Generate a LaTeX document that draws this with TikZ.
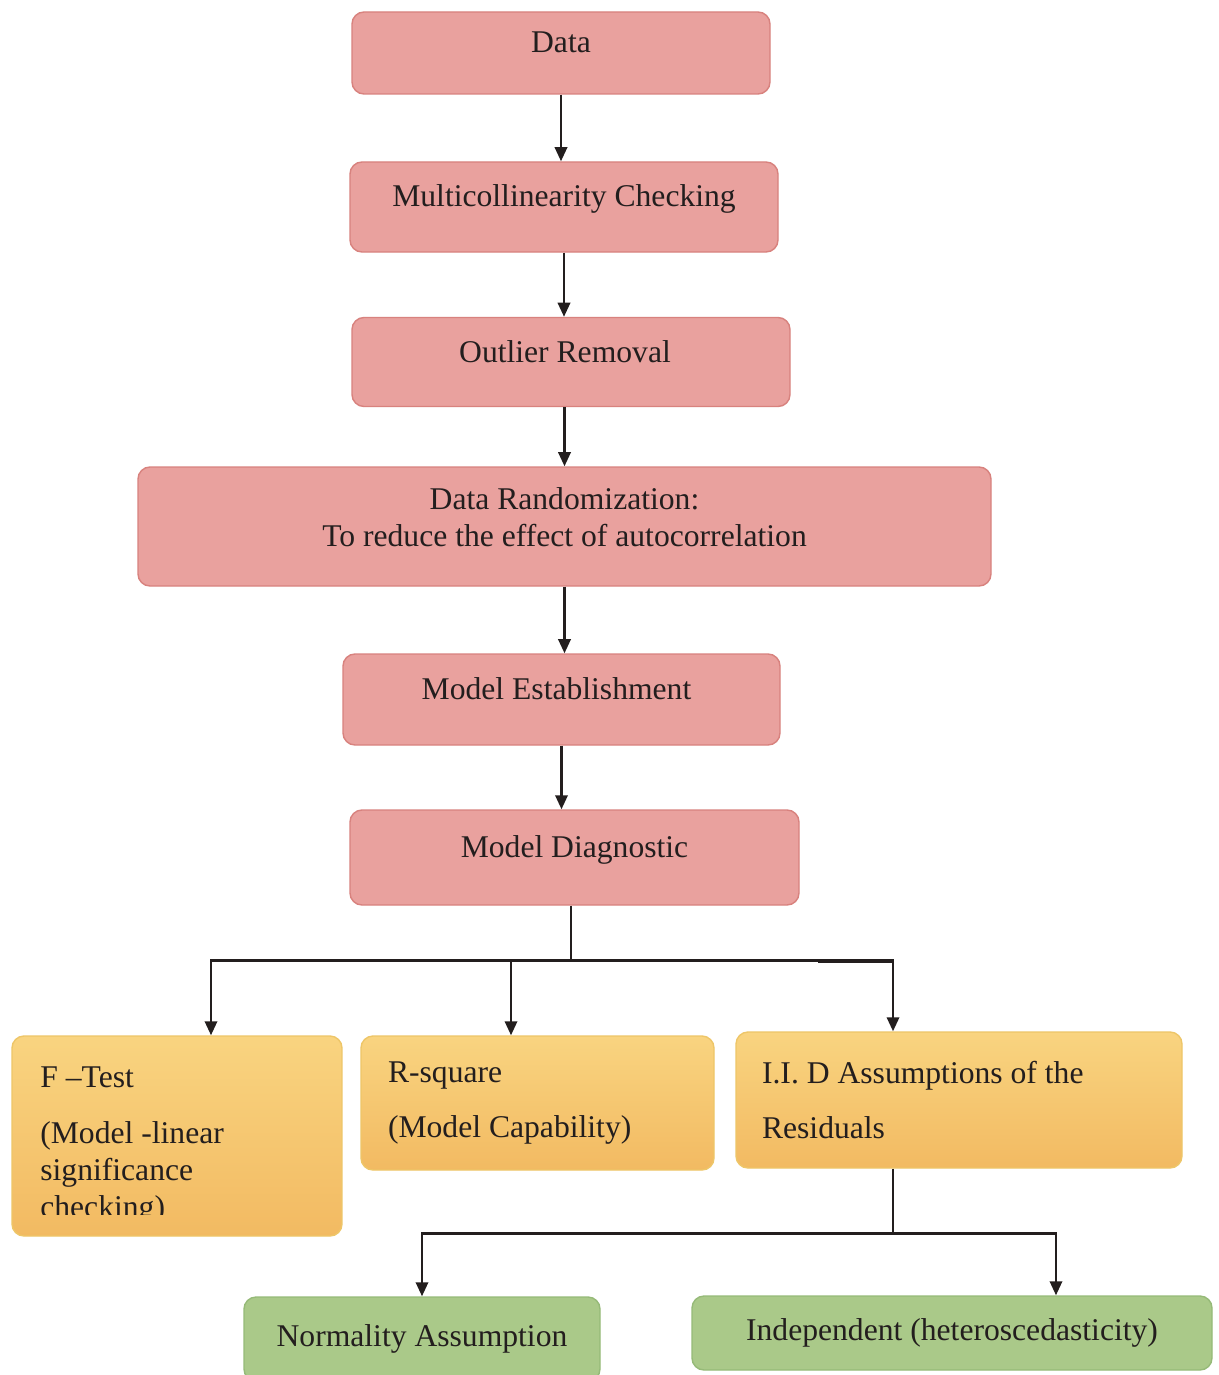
\documentclass[tikz,border=0pt]{standalone}
\usepackage{fontspec}
\setmainfont{Liberation Serif}
\usetikzlibrary{arrows.meta}
\definecolor{pinkfill}{RGB}{233,161,158}
\definecolor{pinkdraw}{RGB}{216,130,126}
\definecolor{orangetop}{RGB}{249,212,128}
\definecolor{orangebot}{RGB}{242,186,98}
\definecolor{orangedraw}{RGB}{238,198,104}
\definecolor{greenfill}{RGB}{170,201,137}
\definecolor{greendraw}{RGB}{150,186,120}
\definecolor{inkc}{RGB}{35,30,30}
\begin{document}
\begin{tikzpicture}[x=0.02cm,y=-0.02cm,
  wh/.style 2 args={minimum width=#1*0.02cm, minimum height=#2*0.02cm},
  box/.style={rounded corners=0.24cm, line width=0.8pt, inner sep=0pt,
    font=\fontsize{18}{21}\selectfont, text=inkc},
  pbox/.style={box, fill=pinkfill, draw=pinkdraw, align=center},
  raised/.style={text height=8pt, text depth=8pt},
  obox/.style={box, top color=orangetop, bottom color=orangebot, draw=orangedraw},
  gbox/.style={box, fill=greenfill, draw=greendraw},
  otext/.style={anchor=north west, align=flush left, inner sep=0pt,
    font=\fontsize{18}{21}\selectfont, text=inkc},
  line/.style={line width=1.4pt, inkc},
  arr/.style={line, -{Triangle[width=7pt,length=8pt]}}]

\useasboundingbox[fill=white] (0,0) rectangle (1219,1375);

% pink chain
\node[pbox, raised, wh={418}{82}] (data) at (561,53) {Data};
\node[pbox, raised, wh={428}{90}] (multi) at (564,207) {Multicollinearity Checking};
\node[pbox, raised, wh={438}{89}] (outlier) at (571,362) {\hspace*{-0.24cm}Outlier Removal};
\node[pbox, wh={853}{119}] (rand) at (564.5,526.5) {Data Randomization:\\To reduce the effect of autocorrelation\\[-10pt]\mbox{}};
\node[pbox, raised, wh={437}{91}] (est) at (561.5,699.5) {\hspace*{-0.2cm}Model Establishment};
\node[pbox, raised, wh={449}{95}] (diag) at (574.5,857.5) {Model Diagnostic};

\draw[arr] (data.south) -- (data.south |- multi.north);
\draw[arr] (multi.south) -- (multi.south |- outlier.north);
\draw[arr] (rand.north |- outlier.south) -- (rand.north);
\draw[arr] (rand.south) -- (rand.south |- est.north);
\draw[arr] (est.south) -- (est.south |- diag.north);

% orange row
\node[obox, wh={330}{200}] (ftest) at (177,1136) {};
\begin{scope}
  \clip (12,1036) rectangle (342,1214);
  \node[otext] (ftesttext) at (40,1066) {F –Test\\[11pt](Model -linear\\significance\\checking)};
\end{scope}
\node[obox, wh={353}{134}, text width=5.98cm, align=flush left] (rsq) at (537.5,1103)
  {R-square\\[10pt](Model Capability)};
\node[obox, wh={446}{136}, text width=7.88cm, align=flush left] (iid) at (959,1100)
  {I.I. D Assumptions of the\\[10pt]Residuals};

\coordinate (b1) at ([xshift=-0.07cm, yshift=-1.1cm]diag.south);
\coordinate (fa) at ([xshift=0.68cm]ftest.north);
\coordinate (ra) at ([xshift=-0.53cm]rsq.north);
\coordinate (ia) at ([xshift=-1.32cm]iid.north);
\draw[line] (b1 |- diag.south) -- (b1);
\draw[arr] (b1) -| (fa);
\draw[arr] (b1) -| (ra);
\draw[arr] (b1) -| (ia);
\draw[line, line width=2.4pt] ([xshift=-1.5cm]ia |- b1) -- (ia |- b1);

% green row
\node[gbox, wh={356}{84}] (norm) at (422,1339) {\raisebox{3pt}{Normality Assumption}};
\node[gbox, wh={520}{74}] (indep) at (952,1333) {Independent (heteroscedasticity)};

\coordinate (b2) at ([yshift=-1.3cm]ia |- iid.south);
\coordinate (na) at (norm.north);
\coordinate (da) at ([xshift=2.08cm]indep.north);
\draw[line] (ia |- iid.south) -- (b2);
\draw[arr] (b2) -| (na);
\draw[arr] (b2) -| (da);
\end{tikzpicture}
\end{document}
